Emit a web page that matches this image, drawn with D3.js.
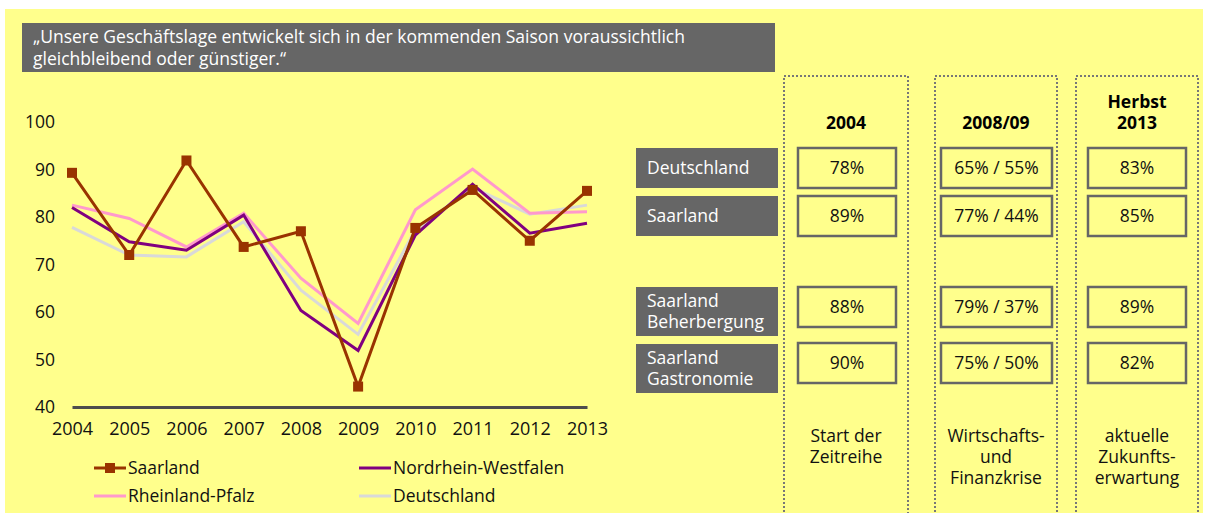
<!DOCTYPE html>
<html>
<head>
<meta charset="utf-8">
<script src="https://cdn.jsdelivr.net/npm/d3@7"></script>
<style>
  html, body { margin: 0; padding: 0; background: #fff; }
  svg { display: block; font-family: 'Open Sans', sans-serif; }
</style>
</head>
<body>
<div id="chart-container"></div>
<script>
// chart data
const years = ['2004', '2005', '2006', '2007', '2008', '2009', '2010', '2011', '2012', '2013'];
const yTicks = [40, 50, 60, 70, 80, 90, 100];
const saarland = [89.3, 72, 91.9, 73.7, 77, 44.3, 77.7, 85.7, 75, 85.5];
const nrw = [82, 74.8, 73, 80.4, 60.3, 51.9, 76.2, 86.9, 76.6, 78.7];
const rlp = [82.5, 79.7, 73.7, 80.8, 67.1, 57.6, 81.5, 90.1, 80.8, 81.1];
const deutschland = [77.8, 72, 71.6, 79, 64.6, 55.3, 77.3, 86.2, 80.6, 82.5];
const seriesNames = ['Saarland', 'Nordrhein-Westfalen', 'Rheinland-Pfalz', 'Deutschland'];

// table data
const tableRows = [['Deutschland'], ['Saarland'], ['Saarland', 'Beherbergung'], ['Saarland', 'Gastronomie']];
const tableHeaders = [['2004'], ['2008/09'], ['Herbst', '2013']];
const tableValues = [
  ['78%', '65% / 55%', '83%'],
  ['89%', '77% / 44%', '85%'],
  ['88%', '79% / 37%', '89%'],
  ['90%', '75% / 50%', '82%'],
];
const tableCaptions = [['Start der', 'Zeitreihe'], ['Wirtschafts-', 'und', 'Finanzkrise'], ['aktuelle', 'Zukunfts-', 'erwartung']];
const titleLines = ['„Unsere Geschäftslage entwickelt sich in der kommenden Saison voraussichtlich', 'gleichbleibend oder günstiger.“'];

const width = 1206;
const height = 513;
const fs = '17.5px';

const svg = d3.select('#chart-container')
    .append('svg')
    .attr('width', width)
    .attr('height', height);

// background
svg.append('rect')
    .attr('x', 5).attr('y', 9)
    .attr('width', width - 8).attr('height', height - 9)
    .attr('fill', '#ffff8c');

// title box
svg.append('rect')
    .attr('x', 22).attr('y', 23)
    .attr('width', 753).attr('height', 49)
    .attr('fill', '#666666');
svg.append('g').selectAll('text')
    .data(titleLines)
    .enter()
    .append('text')
    .attr('x', 33)
    .attr('y', (d, i) => 43 + i * 22)
    .attr('fill', '#fff')
    .attr('font-size', fs)
    .text((d) => d);

// scales
const x = d3.scalePoint().domain(years).range([72, 587]);
const y = d3.scaleLinear().domain([40, 100]).range([407, 122]);

// y axis
const yAxis = svg.append('g')
    .attr('transform', 'translate(72,0)')
    .call(d3.axisLeft(y).tickValues(yTicks).tickSize(0).tickPadding(17));
yAxis.select('.domain').remove();
yAxis.selectAll('text')
    .attr('font-size', fs)
    .attr('font-family', 'Open Sans, sans-serif')
    .attr('fill', '#111');

// x axis
const xAxis = svg.append('g')
    .attr('transform', 'translate(0,407)')
    .call(d3.axisBottom(x).tickSize(0).tickPadding(15));
xAxis.select('.domain')
    .attr('stroke', '#4d4d4d')
    .attr('stroke-width', 3);
xAxis.selectAll('text')
    .attr('font-size', '18px')
    .attr('font-family', 'Open Sans, sans-serif')
    .attr('fill', '#111');

const series = [
  {name: seriesNames[0], values: saarland, color: '#993300', marker: true},
  {name: seriesNames[1], values: nrw, color: '#800080'},
  {name: seriesNames[2], values: rlp, color: '#ff99cc'},
  {name: seriesNames[3], values: deutschland, color: '#d9d9d9'},
];

const line = d3.line()
    .x((d, i) => x(years[i]))
    .y((d) => y(d));

// draw in order: Deutschland, RLP, NRW, Saarland on top
const drawOrder = [3, 2, 1, 0];
drawOrder.forEach(function(k) {
  const s = series[k];
  svg.append('path')
      .datum(s.values)
      .attr('d', line)
      .attr('fill', 'none')
      .attr('stroke', s.color)
      .attr('stroke-width', 3)
      .attr('stroke-linejoin', 'miter');
  if (s.marker) {
    svg.append('g').selectAll('rect')
        .data(s.values)
        .enter()
        .append('rect')
        .attr('x', (d, i) => x(years[i]) - 5)
        .attr('y', (d) => y(d) - 5)
        .attr('width', 10)
        .attr('height', 10)
        .attr('fill', s.color);
  }
});

// legend
const legendPos = [[94, 468], [359, 468], [94, 496], [359, 496]];
series.forEach(function(s, i) {
  const g = svg.append('g').attr('transform', `translate(${legendPos[i][0]},${legendPos[i][1]})`);
  g.append('line')
      .attr('x1', 0).attr('x2', 32)
      .attr('stroke', s.color)
      .attr('stroke-width', 3);
  if (s.marker) {
    g.append('rect')
        .attr('x', 11).attr('y', -5)
        .attr('width', 10).attr('height', 10)
        .attr('fill', s.color);
  }
  g.append('text')
      .attr('x', 34)
      .attr('dy', '0.35em')
      .attr('font-size', fs)
      .attr('fill', '#111')
      .text(s.name);
});

// right table
const colX = [[784, 908], [935, 1057], [1076, 1198]];
const boxX = [[798, 896], [941, 1052], [1088, 1186]];
const rowY = [[148, 188], [196, 236], [287, 327], [343, 383]];
const labelY = [[148, 188], [196, 236], [287, 336], [344, 393]];

colX.forEach(function(c, j) {
  svg.append('rect')
      .attr('x', c[0]).attr('y', 76)
      .attr('width', c[1] - c[0]).attr('height', 460)
      .attr('fill', 'none')
      .attr('stroke', '#777')
      .attr('stroke-width', 2)
      .attr('stroke-dasharray', '2,2');
  const cx = (c[0] + c[1]) / 2;
  const hdr = tableHeaders[j];
  hdr.forEach(function(t, k) {
    svg.append('text')
        .attr('x', cx)
        .attr('y', 123 - (hdr.length - 1 - k) * 21)
        .attr('dy', '0.35em')
        .attr('text-anchor', 'middle')
        .attr('font-size', fs)
        .attr('font-weight', 'bold')
        .attr('fill', '#000')
        .text(t);
  });
  tableCaptions[j].forEach(function(t, k) {
    svg.append('text')
        .attr('x', cx)
        .attr('y', 436 + k * 21)
        .attr('dy', '0.35em')
        .attr('text-anchor', 'middle')
        .attr('font-size', fs)
        .attr('fill', '#111')
        .text(t);
  });
});

tableRows.forEach(function(r, i) {
  svg.append('rect')
      .attr('x', 636).attr('y', labelY[i][0])
      .attr('width', 142).attr('height', labelY[i][1] - labelY[i][0])
      .attr('fill', '#666666');
  r.forEach(function(t, k) {
    const mid = (labelY[i][0] + labelY[i][1]) / 2;
    svg.append('text')
        .attr('x', 647)
        .attr('y', mid + (k - (r.length - 1) / 2) * 21)
        .attr('dy', '0.35em')
        .attr('font-size', fs)
        .attr('fill', '#fff')
        .text(t);
  });
  tableValues[i].forEach(function(v, j) {
    const b = boxX[j];
    svg.append('rect')
        .attr('x', b[0]).attr('y', rowY[i][0])
        .attr('width', b[1] - b[0]).attr('height', rowY[i][1] - rowY[i][0])
        .attr('fill', 'none')
        .attr('stroke', '#666')
        .attr('stroke-width', 2.5);
    svg.append('text')
        .attr('x', (b[0] + b[1]) / 2)
        .attr('y', (rowY[i][0] + rowY[i][1]) / 2)
        .attr('dy', '0.35em')
        .attr('text-anchor', 'middle')
        .attr('font-size', fs)
        .attr('fill', '#111')
        .text(v);
  });
});
</script>
</body>
</html>
